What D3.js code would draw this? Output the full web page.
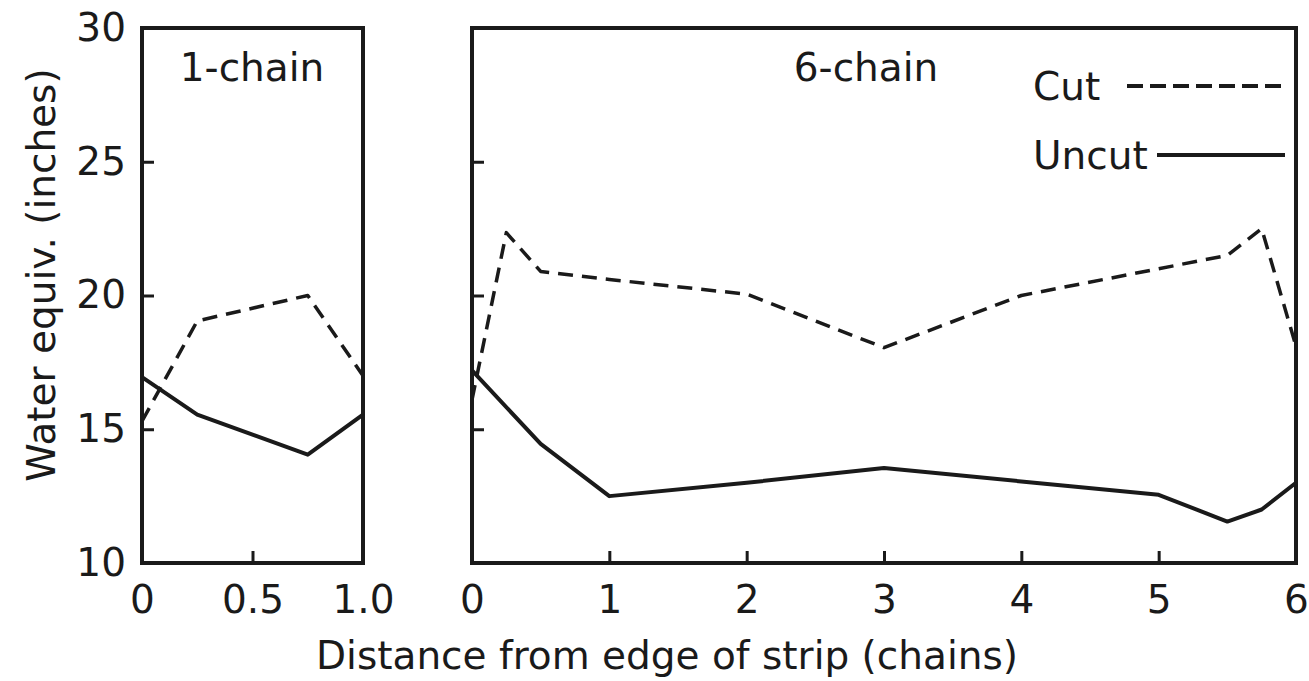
<!DOCTYPE html>
<html><head><meta charset="utf-8">
<script src="https://cdn.jsdelivr.net/npm/d3@7/dist/d3.min.js"></script>
<style>
html,body{margin:0;padding:0;background:#fff;}
svg text{font-family:"DejaVu Sans",sans-serif;fill:#1a1a1a;}
</style></head>
<body>
<svg id="chart" width="1309" height="681"></svg>
<script>
// ---- data ----
const yTicks = [10, 15, 20, 25, 30];
const yTickLabels = ["10", "15", "20", "25", "30"];

const x1Ticks = [0, 0.5, 1.0];
const x1TickLabels = ["0", "0.5", "1.0"];
const x1Dist = [0, 0.25, 0.75, 1.0];
const x1Cut = [15.3, 19.05, 20.0, 17.0];
const x1Uncut = [16.95, 15.55, 14.05, 15.55];

const x6Ticks = [0, 1, 2, 3, 4, 5, 6];
const x6TickLabels = ["0", "1", "2", "3", "4", "5", "6"];
const x6CutDist = [0, 0.25, 0.5, 1, 2, 3, 4, 5, 5.5, 5.75, 6];
const x6Cut = [16.1, 22.35, 20.9, 20.6, 20.05, 18.05, 20.0, 21.0, 21.5, 22.5, 18.1];
const x6UncutDist = [0, 0.5, 1, 2, 3, 4, 5, 5.5, 5.75, 6];
const x6Uncut = [17.2, 14.45, 12.5, 13.0, 13.55, 13.05, 12.55, 11.55, 12.0, 13.0];

const panelTitles = ["1-chain", "6-chain"];
const legendLabels = ["Cut", "Uncut"];
const yTitle = "Water equiv. (inches)";
const xTitle = "Distance from edge of strip (chains)";

// ---- layout ----
const svg = d3.select("#chart");
const plotTop = 28, plotBottom = 563;
const y = d3.scaleLinear().domain([10, 30]).range([plotBottom, plotTop]);
const x1 = d3.scaleLinear().domain([0, 1]).range([142, 363]);
const x6 = d3.scaleLinear().domain([0, 6]).range([472, 1296]);
const ink = "#1a1a1a";
const fs = 39;
const ff = '"DejaVu Sans",sans-serif';

function frame(x) {
  const [a, b] = x.range();
  svg.append("rect").attr("x", a).attr("y", plotTop).attr("width", b - a).attr("height", plotBottom - plotTop)
    .attr("fill", "none").attr("stroke", ink).attr("stroke-width", 4);
}
function styleAxis(g) {
  g.select(".domain").remove();
  g.selectAll(".tick line").attr("stroke", ink).attr("stroke-width", 3);
  g.selectAll(".tick text").attr("font-size", fs).attr("fill", ink).style("font-family", ff);
}

// left panel
frame(x1);
svg.append("g").attr("transform", `translate(${x1.range()[0]},0)`)
  .call(d3.axisLeft(y).tickValues(yTicks).tickFormat((d, i) => yTickLabels[i]).tickSize(-12).tickPadding(16))
  .call(styleAxis);
svg.append("g").attr("transform", `translate(0,${plotBottom})`)
  .call(d3.axisBottom(x1).tickValues(x1Ticks).tickFormat((d, i) => x1TickLabels[i]).tickSize(-12).tickPadding(22))
  .call(styleAxis);

// right panel
frame(x6);
svg.append("g").attr("transform", `translate(${x6.range()[0]},0)`)
  .call(d3.axisLeft(y).tickValues(yTicks).tickFormat("").tickSize(-12))
  .call(styleAxis);
svg.append("g").attr("transform", `translate(0,${plotBottom})`)
  .call(d3.axisBottom(x6).tickValues(x6Ticks).tickFormat((d, i) => x6TickLabels[i]).tickSize(-12).tickPadding(22))
  .call(styleAxis);

// lines
function drawLine(x, xs, ys, dashed) {
  const pts = xs.map((d, i) => [d, ys[i]]);
  svg.append("path").datum(pts)
    .attr("d", d3.line().x(d => x(d[0])).y(d => y(d[1])))
    .attr("fill", "none").attr("stroke", ink).attr("stroke-width", dashed ? 3.5 : 4)
    .attr("stroke-linejoin", "round")
    .attr("stroke-dasharray", dashed ? "15,9" : null);
}
drawLine(x1, x1Dist, x1Cut, true);
drawLine(x1, x1Dist, x1Uncut, false);
drawLine(x6, x6CutDist, x6Cut, true);
drawLine(x6, x6UncutDist, x6Uncut, false);

// panel titles
svg.append("text").attr("x", 252).attr("y", 81).attr("text-anchor", "middle").attr("font-size", fs).text(panelTitles[0]);
svg.append("text").attr("x", 866).attr("y", 81).attr("text-anchor", "middle").attr("font-size", fs).text(panelTitles[1]);

// legend
svg.append("text").attr("x", 1033).attr("y", 100).attr("font-size", fs).text(legendLabels[0]);
svg.append("line").attr("x1", 1127).attr("x2", 1282).attr("y1", 86).attr("y2", 86)
  .attr("stroke", ink).attr("stroke-width", 4).attr("stroke-dasharray", "16,7");
svg.append("text").attr("x", 1033).attr("y", 169).attr("font-size", fs).text(legendLabels[1]);
svg.append("line").attr("x1", 1157).attr("x2", 1285).attr("y1", 155).attr("y2", 155)
  .attr("stroke", ink).attr("stroke-width", 4);

// axis titles
svg.append("text").attr("transform", "translate(55,275) rotate(-90)").attr("text-anchor", "middle")
  .attr("font-size", fs).text(yTitle);
svg.append("text").attr("x", 667).attr("y", 669).attr("text-anchor", "middle").attr("font-size", fs).text(xTitle);
</script>
</body></html>
